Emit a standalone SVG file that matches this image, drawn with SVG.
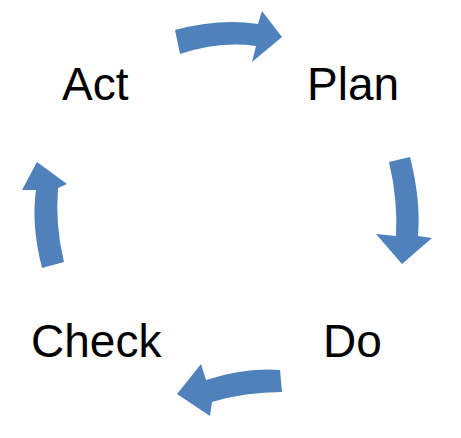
<svg xmlns="http://www.w3.org/2000/svg" width="461" height="438" viewBox="0 0 461 438">
<style>
.lbl{font-family:"Liberation Sans",Arial,sans-serif;font-size:46px;fill:#000}
.arr{fill:#4F81BD}
</style>
<rect width="461" height="438" fill="#fff"/>
<g id="connectors">
<path class="arr" d="M175,30 Q220,18 258,24 L262,11 L282,37 L252,62 L256,46 Q220,41 180,54 Z"/>
<path class="arr" d="M389,162 L410,157 Q421,200 418,236 L432,238 L402,264 L376,234 L396,236 Q398,200 389,162 Z"/>
<path class="arr" d="M280,370 Q245,367 206,380 L201,364 L177,394 L210,416 L212,402 Q245,392 282,392 Z"/>
<path class="arr" d="M42,268 Q31,225 36,190 L22,190 L37,162 L67,184 L58,188 Q55,225 64,262 Z"/>
</g>
<g id="act"><text class="lbl" x="62" y="100">Act</text></g>
<g id="plan"><text class="lbl" x="307" y="100">Plan</text></g>
<g id="do"><text class="lbl" x="323" y="357">Do</text></g>
<g id="check"><text class="lbl" x="31" y="357">Check</text></g>
</svg>
